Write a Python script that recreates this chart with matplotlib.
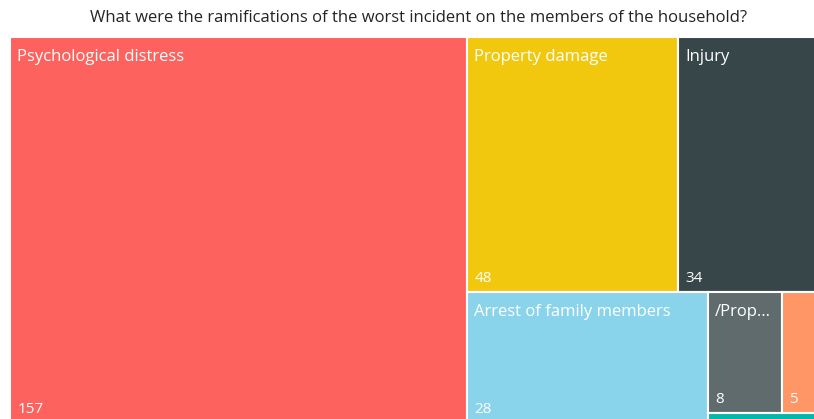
import matplotlib
matplotlib.use('Agg')
import matplotlib.pyplot as plt
from matplotlib.patches import Rectangle

# --- data ---
categories = ["Psychological distress", "Property damage", "Injury",
              "Arrest of family members", "/Prop...", "", ""]
values = [157, 48, 34, 28, 8, 5, 1]
colors = ["#FD625E", "#F2C80F", "#374649", "#8AD4EB", "#5F6B6D", "#FE9666", "#01B8AA"]
show_value = [True, True, True, True, True, True, False]
# grouping of tiles into strips (Power BI style squarify result)
rows = [[0], [1, 2], [3], [4, 5], [6]]

title = "What were the ramifications of the worst incident on the members of the household?"

plt.rcParams['font.family'] = ['Open Sans', 'DejaVu Sans']


def layout(vals, rows, x, y, w, h):
    """Lay out strips; y grows downward."""
    rects = {}
    remaining = sum(vals)
    for row in rows:
        s = sum(vals[i] for i in row)
        if w >= h:
            cw = w * s / remaining
            yy = y
            for i in row:
                ih = h * vals[i] / s
                rects[i] = (x, yy, cw, ih)
                yy += ih
            x += cw
            w -= cw
        else:
            rh = h * s / remaining
            xx = x
            for i in row:
                iw = w * vals[i] / s
                rects[i] = (xx, y, iw, rh)
                xx += iw
            y += rh
            h -= rh
        remaining -= s
    return rects


W, H = 818.0, 385.0
fig = plt.figure(figsize=(8.14, 4.19), dpi=100)
ax = fig.add_axes([10 / 814, -3 / 419, W / 814, H / 419])
ax.set_xlim(0, W)
ax.set_ylim(H, 0)
ax.set_axis_off()

rects = layout(values, rows, 0, 0, W, H)
for i in range(len(values)):
    x, y, w, h = rects[i]
    ax.add_patch(Rectangle((x, y), w, h, facecolor=colors[i],
                           edgecolor='white', linewidth=1.5))
    if categories[i]:
        ax.annotate(categories[i], (x, y), xytext=(5.2, -8.8), textcoords='offset points',
                    ha='left', va='top', color='white', fontsize=12)
    if show_value[i]:
        ax.annotate(str(values[i]), (x, y + h), xytext=(5.2, 3.8), textcoords='offset points',
                    ha='left', va='bottom', color='white', fontsize=11)

fig.text(419 / 814, 1 - 17.5 / 419, title, ha='center', va='center',
         fontsize=12, color='#252423')

fig.savefig('out.png', dpi=100)
